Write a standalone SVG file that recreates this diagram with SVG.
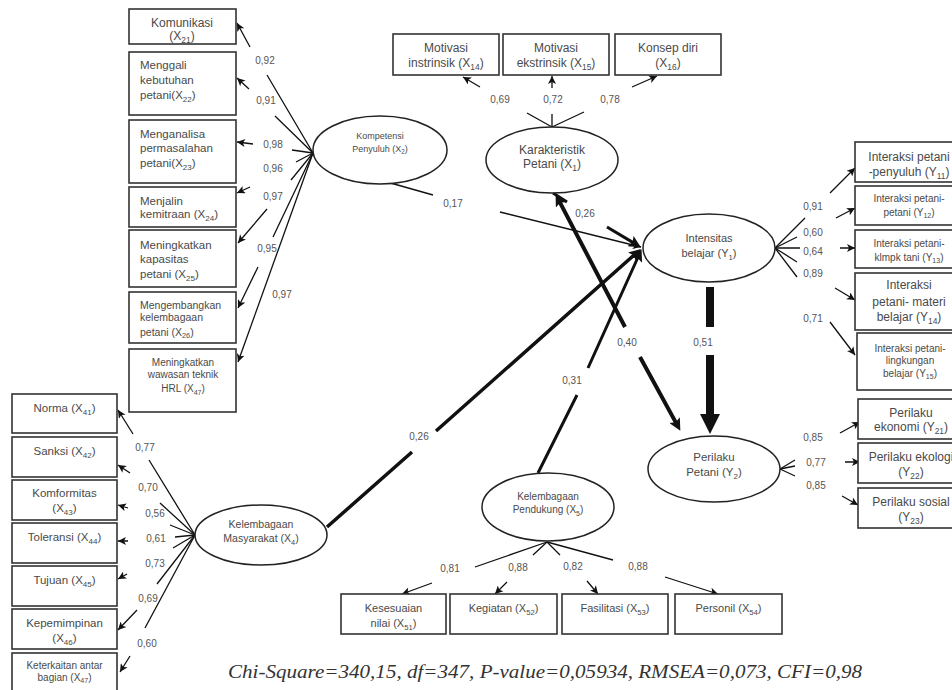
<svg xmlns="http://www.w3.org/2000/svg" width="952" height="690" viewBox="0 0 952 690">
<style>
.box{fill:#fff;stroke:#333;stroke-width:1.6}
.ell{fill:#fff;stroke:#222;stroke-width:1.5}
.t{font-family:"Liberation Sans",Arial,sans-serif;fill:#4a4a4a}
.m{text-anchor:middle}
.s{font-size:70%}
.ln{fill:none;stroke:#111;stroke-width:1.3}
.th{fill:none;stroke:#111}
.c{font-family:"Liberation Sans",Arial,sans-serif;font-size:10px;fill:#555;text-anchor:middle}
.fit{font-family:"Liberation Serif","Times New Roman",serif;font-style:italic;font-size:18px;fill:#333}
</style>
<defs>
<marker id="a" viewBox="0 0 10 10" refX="10" refY="5" markerWidth="9" markerHeight="8" orient="auto" markerUnits="userSpaceOnUse"><path d="M0,0L10,5L0,10L2.5,5Z" fill="#111"/></marker>
<marker id="b" viewBox="0 0 10 10" refX="3" refY="5" markerWidth="14" markerHeight="12" orient="auto-start-reverse" markerUnits="userSpaceOnUse"><path d="M0,0L10,5L0,10L2,5Z" fill="#111"/></marker>
<marker id="c" viewBox="0 0 10 10" refX="2" refY="5" markerWidth="20" markerHeight="22" orient="auto" markerUnits="userSpaceOnUse"><path d="M0,0L10,5L0,10Z" fill="#111"/></marker>
</defs>
<rect width="952" height="690" fill="#fff"/>

<g id="connectors">
<!-- Kompetensi indicators -->
<path class="ln" d="M313,153L267,75M250,47L237,23" marker-end="url(#a)"/>
<path class="ln" d="M313,153L275,116M249,89L237,78" marker-end="url(#a)"/>
<path class="ln" d="M313,153L292,150M253,144L237,142" marker-end="url(#a)"/>
<path class="ln" d="M313,153L296,162M250,187L237,193" marker-end="url(#a)"/>
<path class="ln" d="M313,153L291,180M267,209L238,243" marker-end="url(#a)"/>
<path class="ln" d="M313,153L273,237M258,267L238,308" marker-end="url(#a)"/>
<path class="ln" d="M313,153L238,362" marker-end="url(#a)"/>
<!-- Karakteristik indicators -->
<path class="ln" d="M552,127L527,113M480,87L463,77" marker-end="url(#a)"/>
<path class="ln" d="M552,127L552,114M552,88L552,76" marker-end="url(#a)"/>
<path class="ln" d="M552,127L584,112M632,87L657,76" marker-end="url(#a)"/>
<!-- Intensitas indicators -->
<path class="ln" d="M775,248L805,218M830,193L855,168" marker-end="url(#a)"/>
<path class="ln" d="M775,248L797,237M836,218L855,208" marker-end="url(#a)"/>
<path class="ln" d="M775,248L800,248M840,248L855,248" marker-end="url(#a)"/>
<path class="ln" d="M775,248L797,262M835,288L855,300" marker-end="url(#a)"/>
<path class="ln" d="M775,248L797,277M830,322L855,355" marker-end="url(#a)"/>
<!-- Perilaku indicators -->
<path class="ln" d="M780,469L795,460M840,433L860,422" marker-end="url(#a)"/>
<path class="ln" d="M780,469L795,466M845,462L860,462" marker-end="url(#a)"/>
<path class="ln" d="M780,469L795,476M842,496L858,505" marker-end="url(#a)"/>
<!-- Masyarakat indicators -->
<path class="ln" d="M195,535L149,460M133,434L118,410" marker-end="url(#a)"/>
<path class="ln" d="M195,535L160,503M130,473L118,465" marker-end="url(#a)"/>
<path class="ln" d="M195,535L170,525M128,508L118,505" marker-end="url(#a)"/>
<path class="ln" d="M195,535L175,537M128,541L118,541" marker-end="url(#a)"/>
<path class="ln" d="M195,535L173,548M127,574L118,579" marker-end="url(#a)"/>
<path class="ln" d="M195,535L157,584M137,610L118,630" marker-end="url(#a)"/>
<path class="ln" d="M195,535L145,628M130,656L120,672" marker-end="url(#a)"/>
<!-- Pendukung indicators -->
<path class="ln" d="M547,542L475,567M432,583L402,594" marker-end="url(#a)"/>
<path class="ln" d="M547,542L533,555M507,582L495,594" marker-end="url(#a)"/>
<path class="ln" d="M547,542L560,555M587,581L598,594" marker-end="url(#a)"/>
<path class="ln" d="M547,542L613,560M665,577L718,594" marker-end="url(#a)"/>
<!-- structural paths -->
<path class="ln" d="M387,182L433,195M500,212L641,247" marker-end="url(#a)"/>
<path class="th" stroke-width="3" d="M553,193L567,202M607,227L633.6,242.9" marker-end="url(#b)"/>
<path class="th" stroke-width="4" d="M559.5,201.6L625,327M640,357L676.3,423.4" marker-start="url(#b)" marker-end="url(#b)"/>
<path class="th" stroke-width="8" d="M710,287L710,327M710,355L710,418" marker-end="url(#c)"/>
<path class="th" stroke-width="3" d="M538,473L577,395M588,368L638.1,257" marker-end="url(#b)"/>
<path class="th" stroke-width="3.5" d="M327,527L412,452M436,431L634.7,254.5" marker-end="url(#b)"/>
<!-- coefficients -->
<text class="c" x="265" y="64">0,92</text>
<text class="c" x="266" y="104">0,91</text>
<text class="c" x="273" y="148">0,98</text>
<text class="c" x="273" y="172">0,96</text>
<text class="c" x="273" y="200">0,97</text>
<text class="c" x="267" y="252">0,95</text>
<text class="c" x="282" y="298">0,97</text>
<text class="c" x="500" y="103">0,69</text>
<text class="c" x="553" y="103">0,72</text>
<text class="c" x="610" y="103">0,78</text>
<text class="c" x="453" y="207">0,17</text>
<text class="c" x="585" y="217">0,26</text>
<text class="c" x="627" y="346">0,40</text>
<text class="c" x="703" y="346">0,51</text>
<text class="c" x="572" y="384">0,31</text>
<text class="c" x="419" y="440">0,26</text>
<text class="c" x="813" y="210">0,91</text>
<text class="c" x="813" y="236">0,60</text>
<text class="c" x="813" y="255">0,64</text>
<text class="c" x="813" y="277">0,89</text>
<text class="c" x="813" y="322">0,71</text>
<text class="c" x="813" y="441">0,85</text>
<text class="c" x="816" y="466">0,77</text>
<text class="c" x="816" y="489">0,85</text>
<text class="c" x="145" y="451">0,77</text>
<text class="c" x="148" y="491">0,70</text>
<text class="c" x="155" y="517">0,56</text>
<text class="c" x="156" y="542">0,61</text>
<text class="c" x="155" y="567">0,73</text>
<text class="c" x="148" y="602">0,69</text>
<text class="c" x="147" y="647">0,60</text>
<text class="c" x="450" y="572">0,81</text>
<text class="c" x="518" y="571">0,88</text>
<text class="c" x="573" y="570">0,82</text>
<text class="c" x="638" y="570">0,88</text>
</g>

<!-- latent variables -->
<g id="kompetensi"><ellipse class="ell" cx="380" cy="150" rx="67" ry="34"/>
<text class="t m" font-size="9" x="380" y="138.5">Kompetensi</text>
<text class="t m" font-size="9" x="380" y="151.5">Penyuluh (X<tspan class="s" dy="2">2</tspan><tspan dy="-2">)</tspan></text></g>
<g id="karakteristik"><ellipse class="ell" cx="552" cy="160" rx="66" ry="33"/>
<text class="t m" font-size="12" x="552" y="154">Karakteristik</text>
<text class="t m" font-size="12" x="552" y="168">Petani (X<tspan class="s" dy="2.5">1</tspan><tspan dy="-2.5">)</tspan></text></g>
<g id="intensitas"><ellipse class="ell" cx="709" cy="248" rx="66" ry="34"/>
<text class="t m" font-size="11" x="709" y="242">Intensitas</text>
<text class="t m" font-size="11" x="709" y="257">belajar (Y<tspan class="s" dy="2.5">1</tspan><tspan dy="-2.5">)</tspan></text></g>
<g id="perilaku"><ellipse class="ell" cx="714" cy="469" rx="66" ry="33"/>
<text class="t m" font-size="11.5" x="714" y="461">Perilaku</text>
<text class="t m" font-size="11.5" x="714" y="476">Petani (Y<tspan class="s" dy="2.5">2</tspan><tspan dy="-2.5">)</tspan></text></g>
<g id="masyarakat"><ellipse class="ell" cx="261" cy="535" rx="66" ry="30"/>
<text class="t m" font-size="10.5" x="261" y="528">Kelembagaan</text>
<text class="t m" font-size="10.5" x="261" y="542">Masyarakat (X<tspan class="s" dy="2.5">4</tspan><tspan dy="-2.5">)</tspan></text></g>
<g id="pendukung"><ellipse class="ell" cx="548" cy="507" rx="66" ry="34"/>
<text class="t m" font-size="10" x="548" y="500">Kelembagaan</text>
<text class="t m" font-size="10" x="548" y="513">Pendukung (X<tspan class="s" dy="2.5">5</tspan><tspan dy="-2.5">)</tspan></text></g>

<!-- Kompetensi indicators -->
<g id="x21"><rect class="box" x="129" y="9" width="107" height="35"/>
<text class="t m" font-size="12" x="182" y="27">Komunikasi</text>
<text class="t m" font-size="12" x="182" y="40">(X<tspan class="s" dy="2.5">21</tspan><tspan dy="-2.5">)</tspan></text></g>
<g id="x22"><rect class="box" x="129" y="52" width="107" height="63"/>
<text class="t" font-size="11.5" x="140" y="69">Menggali</text>
<text class="t" font-size="11.5" x="140" y="84">kebutuhan</text>
<text class="t" font-size="11.5" x="140" y="99">petani(X<tspan class="s" dy="2.5">22</tspan><tspan dy="-2.5">)</tspan></text></g>
<g id="x23"><rect class="box" x="129" y="120" width="107" height="63"/>
<text class="t" font-size="11.5" x="140" y="138">Menganalisa</text>
<text class="t" font-size="11.5" x="140" y="152">permasalahan</text>
<text class="t" font-size="11.5" x="140" y="167">petani(X<tspan class="s" dy="2.5">23</tspan><tspan dy="-2.5">)</tspan></text></g>
<g id="x24"><rect class="box" x="129" y="187" width="107" height="40"/>
<text class="t" font-size="11.5" x="140" y="205">Menjalin</text>
<text class="t" font-size="11.5" x="140" y="218">kemitraan (X<tspan class="s" dy="2.5">24</tspan><tspan dy="-2.5">)</tspan></text></g>
<g id="x25"><rect class="box" x="129" y="230" width="107" height="57"/>
<text class="t" font-size="11.5" x="140" y="249">Meningkatkan</text>
<text class="t" font-size="11.5" x="140" y="263">kapasitas</text>
<text class="t" font-size="11.5" x="140" y="278">petani (X<tspan class="s" dy="2.5">25</tspan><tspan dy="-2.5">)</tspan></text></g>
<g id="x26"><rect class="box" x="129" y="292" width="107" height="51"/>
<text class="t" font-size="10.5" x="140" y="308.5">Mengembangkan</text>
<text class="t" font-size="10.5" x="140" y="320.5">kelembagaan</text>
<text class="t" font-size="10.5" x="140" y="335.5">petani (X<tspan class="s" dy="2.5">26</tspan><tspan dy="-2.5">)</tspan></text></g>
<g id="x27"><rect class="box" x="129" y="349" width="107" height="63"/>
<text class="t m" font-size="10" x="183" y="366">Meningkatkan</text>
<text class="t m" font-size="10" x="183" y="378">wawasan teknik</text>
<text class="t m" font-size="10" x="183" y="392">HRL (X<tspan class="s" dy="2.5">47</tspan><tspan dy="-2.5">)</tspan></text></g>

<!-- Karakteristik indicators -->
<g id="x14"><rect class="box" x="393" y="34" width="106" height="41"/>
<text class="t m" font-size="12" x="446" y="52">Motivasi</text>
<text class="t m" font-size="12" x="446" y="67">instrinsik (X<tspan class="s" dy="2.5">14</tspan><tspan dy="-2.5">)</tspan></text></g>
<g id="x15"><rect class="box" x="503" y="34" width="106" height="41"/>
<text class="t m" font-size="12" x="556" y="52">Motivasi</text>
<text class="t m" font-size="12" x="556" y="67">ekstrinsik (X<tspan class="s" dy="2.5">15</tspan><tspan dy="-2.5">)</tspan></text></g>
<g id="x16"><rect class="box" x="615" y="34" width="106" height="41"/>
<text class="t m" font-size="12" x="668" y="52">Konsep diri</text>
<text class="t m" font-size="12" x="668" y="67">(X<tspan class="s" dy="2.5">16</tspan><tspan dy="-2.5">)</tspan></text></g>

<!-- Intensitas indicators -->
<g id="y11"><rect class="box" x="855" y="142" width="108" height="40"/>
<text class="t m" font-size="12" x="909" y="161">Interaksi petani</text>
<text class="t m" font-size="12" x="909" y="176">-penyuluh (Y<tspan class="s" dy="2.5">11</tspan><tspan dy="-2.5">)</tspan></text></g>
<g id="y12"><rect class="box" x="855" y="186" width="108" height="39"/>
<text class="t m" font-size="10" x="909" y="201.5">Interaksi petani-</text>
<text class="t m" font-size="10" x="909" y="215.5">petani (Y<tspan class="s" dy="2">12</tspan><tspan dy="-2">)</tspan></text></g>
<g id="y13"><rect class="box" x="855" y="230" width="108" height="38"/>
<text class="t m" font-size="10" x="909" y="246.5">Interaksi petani-</text>
<text class="t m" font-size="10" x="909" y="260.5">klmpk tani (Y<tspan class="s" dy="2">13</tspan><tspan dy="-2">)</tspan></text></g>
<g id="y14"><rect class="box" x="855" y="273" width="108" height="57"/>
<text class="t m" font-size="12" x="909" y="289">Interaksi</text>
<text class="t m" font-size="12" x="909" y="306">petani- materi</text>
<text class="t m" font-size="12" x="909" y="321">belajar (Y<tspan class="s" dy="2.5">14</tspan><tspan dy="-2.5">)</tspan></text></g>
<g id="y15"><rect class="box" x="857" y="333" width="106" height="57"/>
<text class="t m" font-size="10" x="910" y="351.5">Interaksi petani-</text>
<text class="t m" font-size="10" x="910" y="363.5">lingkungan</text>
<text class="t m" font-size="10" x="910" y="376.5">belajar (Y<tspan class="s" dy="2">15</tspan><tspan dy="-2">)</tspan></text></g>

<!-- Perilaku indicators -->
<g id="y21"><rect class="box" x="858" y="399" width="105" height="40"/>
<text class="t m" font-size="12" x="911" y="417">Perilaku</text>
<text class="t m" font-size="12" x="911" y="431">ekonomi (Y<tspan class="s" dy="2.5">21</tspan><tspan dy="-2.5">)</tspan></text></g>
<g id="y22"><rect class="box" x="858" y="443" width="105" height="40"/>
<text class="t m" font-size="12" x="911" y="461">Perilaku ekologi</text>
<text class="t m" font-size="12" x="911" y="476">(Y<tspan class="s" dy="2.5">22</tspan><tspan dy="-2.5">)</tspan></text></g>
<g id="y23"><rect class="box" x="858" y="488" width="105" height="40"/>
<text class="t m" font-size="12" x="911" y="506">Perilaku sosial</text>
<text class="t m" font-size="12" x="911" y="521">(Y<tspan class="s" dy="2.5">23</tspan><tspan dy="-2.5">)</tspan></text></g>

<!-- Masyarakat indicators -->
<g id="x41"><rect class="box" x="12" y="394" width="105" height="39"/>
<text class="t m" font-size="11.5" x="64.5" y="412">Norma (X<tspan class="s" dy="2.5">41</tspan><tspan dy="-2.5">)</tspan></text></g>
<g id="x42"><rect class="box" x="12" y="437" width="105" height="40"/>
<text class="t m" font-size="11.5" x="64.5" y="455">Sanksi (X<tspan class="s" dy="2.5">42</tspan><tspan dy="-2.5">)</tspan></text></g>
<g id="x43"><rect class="box" x="12" y="480" width="105" height="40"/>
<text class="t m" font-size="11.5" x="64.5" y="497">Komformitas</text>
<text class="t m" font-size="11.5" x="64.5" y="512">(X<tspan class="s" dy="2.5">43</tspan><tspan dy="-2.5">)</tspan></text></g>
<g id="x44"><rect class="box" x="12" y="523" width="105" height="40"/>
<text class="t m" font-size="11.5" x="64.5" y="541">Toleransi (X<tspan class="s" dy="2.5">44</tspan><tspan dy="-2.5">)</tspan></text></g>
<g id="x45"><rect class="box" x="12" y="566" width="105" height="40"/>
<text class="t m" font-size="11.5" x="64.5" y="584">Tujuan (X<tspan class="s" dy="2.5">45</tspan><tspan dy="-2.5">)</tspan></text></g>
<g id="x46"><rect class="box" x="12" y="609" width="105" height="40"/>
<text class="t m" font-size="11.5" x="64.5" y="627">Kepemimpinan</text>
<text class="t m" font-size="11.5" x="64.5" y="642">(X<tspan class="s" dy="2.5">46</tspan><tspan dy="-2.5">)</tspan></text></g>
<g id="x47"><rect class="box" x="12" y="653" width="105" height="40"/>
<text class="t m" font-size="10" x="64.5" y="668.5">Keterkaitan antar</text>
<text class="t m" font-size="10" x="64.5" y="680.5">bagian  (X<tspan class="s" dy="2">47</tspan><tspan dy="-2">)</tspan></text></g>

<!-- Pendukung indicators -->
<g id="x51"><rect class="box" x="341" y="594" width="105" height="40"/>
<text class="t m" font-size="11" x="393.5" y="612">Kesesuaian</text>
<text class="t m" font-size="11" x="393.5" y="627">nilai (X<tspan class="s" dy="2.5">51</tspan><tspan dy="-2.5">)</tspan></text></g>
<g id="x52"><rect class="box" x="450" y="594" width="107" height="40"/>
<text class="t m" font-size="11" x="503.5" y="612">Kegiatan (X<tspan class="s" dy="2.5">52</tspan><tspan dy="-2.5">)</tspan></text></g>
<g id="x53"><rect class="box" x="562" y="594" width="106" height="40"/>
<text class="t m" font-size="11" x="615" y="612">Fasilitasi (X<tspan class="s" dy="2.5">53</tspan><tspan dy="-2.5">)</tspan></text></g>
<g id="x54"><rect class="box" x="675" y="594" width="107" height="40"/>
<text class="t m" font-size="11" x="728.5" y="612">Personil (X<tspan class="s" dy="2.5">54</tspan><tspan dy="-2.5">)</tspan></text></g>

<g id="fit"><text class="fit" x="228" y="678" textLength="634" lengthAdjust="spacingAndGlyphs">Chi-Square=340,15, df=347, P-value=0,05934, RMSEA=0,073, CFI=0,98</text></g>
</svg>
